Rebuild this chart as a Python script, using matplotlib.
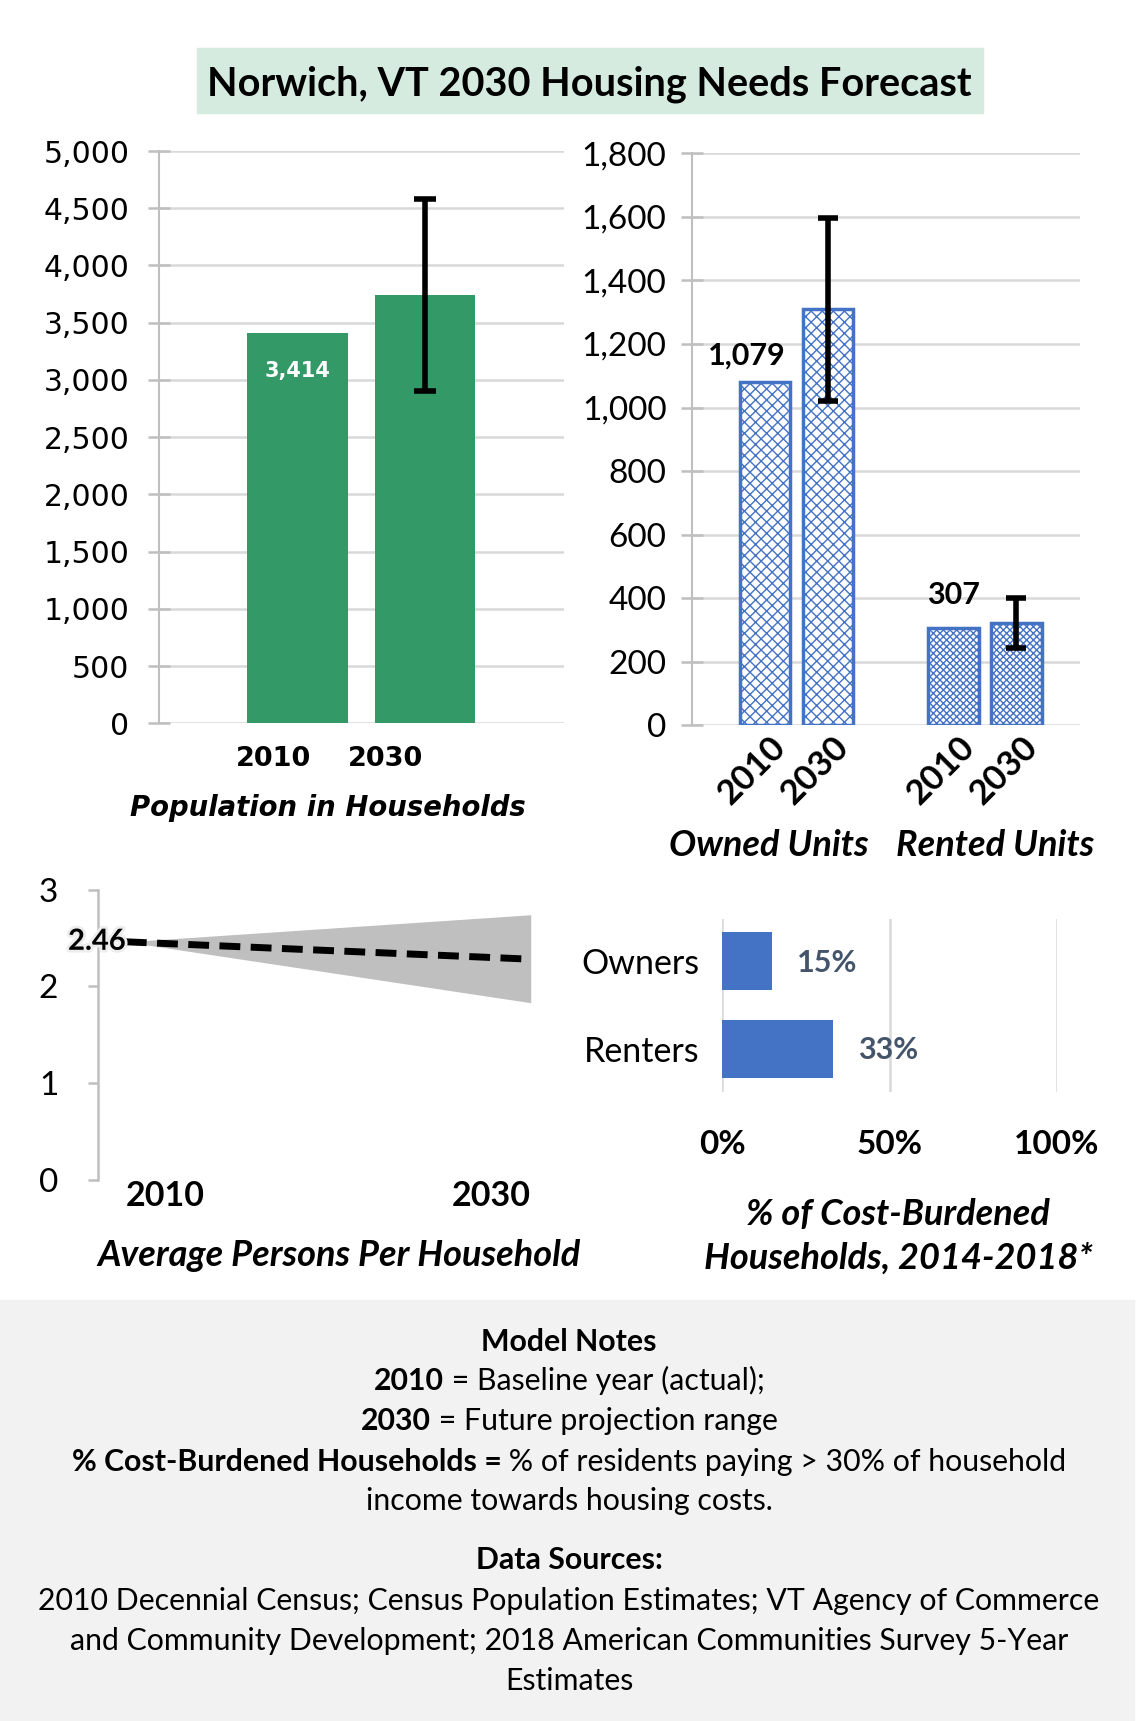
import matplotlib

matplotlib.use("Agg")
import matplotlib.pyplot as plt  # noqa: E402
import matplotlib.patheffects as pe  # noqa: E402
from matplotlib.patches import Rectangle  # noqa: E402

# --- data ------------------------------------------------------------------
pop_years = ["2010", "2030"]
pop_values = [3414, 3740]
pop_2030_range = (2900, 4580)

unit_years = ["2010", "2030"]
owned_values = [1079, 1310]
owned_2030_range = (1020, 1595)
rented_values = [307, 323]
rented_2030_range = (245, 400)

pph_years = [2010, 2030]
pph_mid = [2.46, 2.28]
pph_low = [2.46, 1.83]
pph_high = [2.46, 2.74]

cb_groups = ["Owners", "Renters"]
cb_share = [0.15, 0.33]

notes_lines = [
    [("Model Notes", "bold")],
    [("2010", "bold"), (" = Baseline year (actual);", "normal")],
    [("2030", "bold"), (" = Future projection range", "normal")],
    [("% Cost-Burdened Households =", "bold"),
     (" % of residents paying > 30% of household", "normal")],
    [("income towards housing costs.", "normal")],
    [("Data Sources:", "bold")],
    [("2010 Decennial Census; Census Population Estimates; VT Agency of Commerce", "normal")],
    [("and Community Development; 2018 American Communities Survey 5-Year", "normal")],
    [("Estimates", "normal")],
]
notes_y = [1221, 1257, 1294, 1331, 1367, 1421, 1458, 1495, 1531]

GREEN = "#339966"
BLUE = "#4472C4"
GRID = "#D9D9D9"
AXIS = "#BFBFBF"
LABEL = "#44546A"
VERA = "DejaVu Sans"

plt.rcParams["font.family"] = ["Lato", "DejaVu Sans"]

W, H = 1138, 1721
S = W / 1040.0  # layout measured on a 1040-wide copy


def fx(x):
    return x * S / W


def fy(y):
    return 1 - y * S / H


def rect(left, top, right, bottom):
    return [fx(left), fy(bottom), fx(right) - fx(left), fy(top) - fy(bottom)]


def style_bar_axes(ax):
    for side in ("top", "right", "bottom"):
        ax.spines[side].set_visible(False)
    ax.spines["left"].set_color(AXIS)
    ax.spines["left"].set_linewidth(1.5)
    ax.yaxis.grid(True, color=GRID, lw=1.8)
    ax.set_axisbelow(True)
    ax.tick_params(axis="y", direction="inout", length=16, width=1.8, color=AXIS)
    ax.tick_params(axis="x", length=0)


fig = plt.figure(figsize=(W / 100, H / 100), dpi=100)

# title box
fig.patches.append(Rectangle((fx(180), fy(103)), fx(898) - fx(180), fy(44) - fy(103),
                             transform=fig.transFigure, color="#D5EBDF", zorder=0))
fig.text(fx(539), fy(77), "Norwich, VT 2030 Housing Needs Forecast",
         ha="center", va="center", size=28.5, weight="bold")

# --- population in households ---------------------------------------------
ax1 = fig.add_axes(rect(145, 138, 515, 661))
x1 = list(range(len(pop_years)))
ax1.bar(x1, pop_values, width=0.79, color=GREEN, zorder=2)
ax1.errorbar(x1[1], pop_values[1],
             yerr=[[pop_values[1] - pop_2030_range[0]], [pop_2030_range[1] - pop_values[1]]],
             fmt="none", ecolor="black", elinewidth=4, capsize=8, capthick=4, zorder=3)
ax1.set_xlim(-1.09, 2.086)
ax1.set_ylim(0, 5000)
ax1.set_yticks(range(0, 5001, 500))
ax1.set_yticklabels([f"{v:,}" for v in range(0, 5001, 500)], family=VERA, size=21.5)
ax1.set_xticks([-0.19, 0.69])
ax1.set_xticklabels(pop_years, weight="bold", family=VERA, size=19.5)
ax1.tick_params(axis="x", pad=16)
ax1.tick_params(axis="y", pad=13)
style_bar_axes(ax1)
ax1.text(x1[0], 3080, f"{pop_values[0]:,}", ha="center", va="center",
         color="white", weight="bold", family=VERA, size=15)
fig.text(fx(300), fy(738), "Population in Households", ha="center", va="center",
         size=19.8, weight="bold", style="italic", family=VERA)

# --- owned / rented units ---------------------------------------------------
ax2 = fig.add_axes(rect(632, 140, 987, 663))
x_owned = [0, 1]
x_rented = [3, 4]
ax2.bar(x_owned, owned_values, width=0.8, facecolor="white", edgecolor=BLUE,
        hatch="xxx", lw=2.5, zorder=2)
ax2.bar(x_rented, rented_values, width=0.8, facecolor="white", edgecolor=BLUE,
        hatch="xxxxx", lw=2.5, zorder=2)
for xs, vals, rng in ((x_owned, owned_values, owned_2030_range),
                      (x_rented, rented_values, rented_2030_range)):
    ax2.errorbar(xs[1], vals[1], yerr=[[vals[1] - rng[0]], [rng[1] - vals[1]]],
                 fmt="none", ecolor="black", elinewidth=4, capsize=7, capthick=4, zorder=3)
ax2.set_xlim(-1.165, 5.01)
ax2.set_ylim(0, 1800)
ax2.set_yticks(range(0, 1801, 200))
ax2.set_yticklabels([f"{v:,}" for v in range(0, 1801, 200)], size=24)
ax2.tick_params(axis="y", pad=10)
ax2.set_xticks([])
style_bar_axes(ax2)
# rotated year labels under each bar
for xpos, year in zip(x_owned + x_rented, unit_years * 2):
    ax2.annotate(year, (xpos, 0), xycoords=("data", "axes fraction"),
                 xytext=(11.5, -11.5), textcoords="offset points",
                 rotation=45, rotation_mode="anchor", ha="right", va="center",
                 weight="bold", size=25, annotation_clip=False)
ax2.annotate(f"{owned_values[0]:,}", (x_owned[0], owned_values[0]), xytext=(-13, 19),
             textcoords="offset points", ha="center", va="center", weight="bold", size=22)
ax2.annotate(f"{rented_values[0]:,}", (x_rented[0], rented_values[0]), xytext=(0, 24),
             textcoords="offset points", ha="center", va="center", weight="bold", size=22)
fig.text(fx(703), fy(773), "Owned Units", ha="center", va="center",
         size=26, weight="bold", style="italic")
fig.text(fx(909), fy(773), "Rented Units", ha="center", va="center",
         size=26, weight="bold", style="italic")

# --- average persons per household -----------------------------------------
ax3 = fig.add_axes(rect(90, 813, 490, 1078))
ax3.fill_between(pph_years, pph_low, pph_high, color="#BFBFBF", lw=0, zorder=1)
ax3.plot(pph_years, pph_mid, color="black", lw=5, dashes=(3, 1.5), zorder=2)
ax3.set_xlim(2008.65, 2030.27)
ax3.set_ylim(0, 3)
ax3.set_yticks([0, 1, 2, 3])
ax3.set_yticklabels(["0", "1", "2", "3"], size=24)
ax3.set_xticks(pph_years)
ax3.set_xticklabels([str(y) for y in pph_years], weight="bold", size=24.5)
ax3.get_xticklabels()[0].set_ha("left")
ax3.get_xticklabels()[1].set_ha("right")
for side in ("top", "right", "bottom"):
    ax3.spines[side].set_visible(False)
ax3.spines["left"].set_color(AXIS)
ax3.spines["left"].set_linewidth(1.8)
ax3.tick_params(axis="y", direction="out", length=7, width=1.8, color=AXIS, pad=22)
ax3.tick_params(axis="x", length=0, pad=0)
ax3.text(pph_years[0], pph_mid[0], f"{pph_mid[0]:.2f}", ha="right", va="center",
         weight="bold", size=21, zorder=4,
         path_effects=[pe.withStroke(linewidth=4, foreground="#EDEDED")])
fig.text(fx(310), fy(1147), "Average Persons Per Household", ha="center", va="center",
         size=26, weight="bold", style="italic")

# --- cost-burdened households ----------------------------------------------
ax4 = fig.add_axes(rect(660, 840, 966, 998))
y4 = list(range(len(cb_groups)))
ax4.barh(y4, cb_share, height=0.66, color=BLUE, zorder=2)
for y, v in zip(y4, cb_share):
    ax4.annotate(f"{v:.0%}", (v, y), xytext=(18, -1), textcoords="offset points",
                 ha="left", va="center", color=LABEL, weight="bold", size=22)
ax4.set_xlim(0, 1)
ax4.set_ylim(1.49, -0.48)
ax4.set_xticks([0, 0.5, 1])
ax4.set_xticklabels(["0%", "50%", "100%"], weight="bold", size=24)
ax4.set_yticks(y4)
ax4.set_yticklabels(cb_groups, size=24.5)
ax4.tick_params(length=0)
ax4.tick_params(axis="x", pad=27)
ax4.tick_params(axis="y", pad=16)
for side in ax4.spines.values():
    side.set_visible(False)
ax4.xaxis.grid(True, color=GRID, lw=1.8)
ax4.set_axisbelow(True)
fig.text(fx(821), fy(1110), "% of Cost-Burdened", ha="center", va="center",
         size=26, weight="bold", style="italic")
fig.text(fx(821), fy(1150), "Households, 2014-2018*", ha="center", va="center",
         size=26, weight="bold", style="italic")

# --- notes box --------------------------------------------------------------
fig.patches.append(Rectangle((0, 0), fx(1036), fy(1188), transform=fig.transFigure,
                             color="#F2F2F2", zorder=0))
renderer = fig.canvas.get_renderer()
for parts, y in zip(notes_lines, notes_y):
    texts = [fig.text(0, fy(y + 5), s, weight=w, size=21.8, va="center", ha="left")
             for s, w in parts]
    widths = [t.get_window_extent(renderer).width for t in texts]
    x0 = fx(520) * W - sum(widths) / 2
    for t, w in zip(texts, widths):
        t.set_x(x0 / W)
        x0 += w

fig.savefig("out.png", dpi=100)
